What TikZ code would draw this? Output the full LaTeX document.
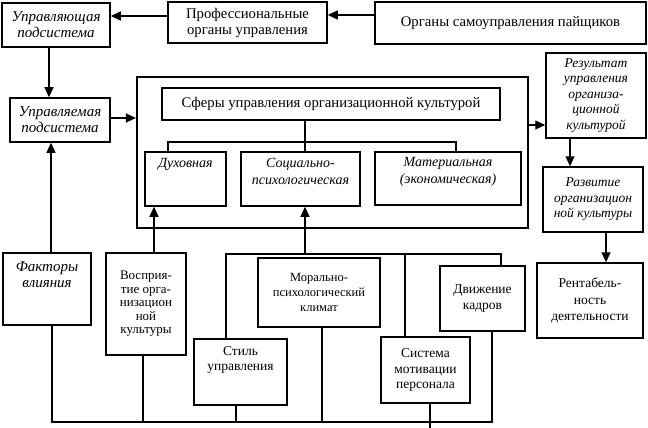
\documentclass[tikz,border=0pt]{standalone}
\usepackage{fontspec}
\setmainfont{Liberation Serif}
\usetikzlibrary{arrows.meta}

\begin{document}
\begin{tikzpicture}[x=1pt, y=-1pt, font=\fontsize{13.5}{15.5}\selectfont]
  \tikzset{
    box/.style={draw=black, line width=1.5pt, align=center, inner sep=1pt},
    ibox/.style={box, font=\fontsize{13.5}{15.5}\selectfont\itshape},
    bigtxt/.style={font=\fontsize{14.7}{16}\selectfont},
    bigit/.style={font=\fontsize{15}{16}\selectfont\itshape},
    toplbl/.style={anchor=north, align=center, inner sep=0pt},
    arr/.style={line width=1.2pt, -{Triangle[length=10pt, width=9pt]}},
    wire/.style={line width=1.2pt}
  }
  \useasboundingbox (0,0) rectangle (648,428);

  % — top row —
  \node[box, bigit,   minimum width=108, minimum height=44] (upr)   at (56,25)    {Управляющая\\подсистема};
  \node[box, bigtxt,  minimum width=159, minimum height=41] (prof)  at (247.5,22.5) {Профессиональные\\органы управления};
  \node[box, bigtxt,  minimum width=271, minimum height=42] (organ) at (510.5,23) {Органы самоуправления пайщиков};
  \node[box, bigit,   minimum width=100, minimum height=44] (uprm)  at (60,120)   {Управляемая\\подсистема};

  % — spheres of culture management —
  \node[draw, line width=2.2pt, minimum width=391, minimum height=151] (big) at (332.5,152.5) {};
  \node[box, bigtxt, minimum width=338, minimum height=32] (sfery) at (331,104) {Сферы управления организационной культурой};
  \node[box, minimum width=81,  minimum height=54,
        label={[toplbl, yshift=-7pt, font=\fontsize{14}{16}\selectfont\itshape]north:Духовная}] (duh) at (185.5,179) {};
  \node[box, minimum width=119, minimum height=54,
        label={[toplbl, yshift=-7pt, font=\fontsize{14}{16.5}\selectfont\itshape]north:Социально-\\психологическая}] (soc) at (300.5,179) {};
  \node[box, minimum width=146, minimum height=53,
        label={[toplbl, yshift=-6pt, font=\fontsize{14}{17}\selectfont\itshape]north:Материальная\\(экономическая)}] (mat) at (448,178.5) {};

  % — results (right column) —
  \node[ibox, minimum width=100, minimum height=85] (res)  at (596,95.5)  {Результат\\управления\\организа-\\ционной\\культурой};
  \node[ibox, minimum width=100, minimum height=65] (razv) at (593,199.5) {Развитие\\организацион\\ной культуры};
  \node[box,  minimum width=106, minimum height=75, font=\fontsize{13.5}{16.5}\selectfont] (rent) at (590,300.5) {Рентабель-\\ность\\деятельности};

  % — influence factors (bottom) —
  \node[box, minimum width=88, minimum height=72,
        label={[toplbl, yshift=-9pt, bigit]north:Факторы\\влияния}] (fakt) at (47,289) {};
  \node[box, minimum width=80, minimum height=102, font=\fontsize{13}{13.5}\selectfont] (vospr) at (146,304)
        {Восприя-\\тие орга-\\низацион\\ной\\культуры};
  \node[box, minimum width=122, minimum height=69, font=\fontsize{12.5}{15}\selectfont] (moral) at (319,292.5)
        {Морально-\\психологический\\климат};
  \node[box, minimum width=93, minimum height=66,
        label={[toplbl, yshift=-8pt]north:Стиль\\управления}] (stil) at (240.5,372) {};
  \node[box, minimum width=89, minimum height=66] (sys)   at (425.5,370) {Система\\мотивации\\персонала};
  \node[box, minimum width=85, minimum height=65] (dvizh) at (482.5,298.5) {Движение\\кадров};

  % — arrows between blocks —
  \draw[arr] ([yshift=8pt]organ.west) -- ([yshift=8pt]organ.west -| prof.east);
  \draw[arr] (prof.west |- 0,16) -- (upr.east |- 0,16);
  \draw[arr] (upr.south -| 49,0) -- (uprm.north -| 49,0);
  \draw[arr] (uprm.east |- 0,118) -- (big.west |- 0,118);
  \draw[arr] (big.east |- 0,125) -- (res.west |- 0,125);
  \draw[arr] (res.south -| 570,0) -- (razv.north -| 570,0);
  \draw[arr] (razv.south -| 606,0) -- (rent.north -| 606,0);
  \draw[arr] (fakt.north -| 51,0) -- (uprm.south -| 51,0);
  \draw[arr] (vospr.north -| 154,0) -- (duh.south -| 154,0);

  % tree under the spheres box
  \coordinate (sfbus) at (305,142);
  \draw[wire] (sfery.south -| sfbus) -- (soc.north -| sfbus);
  \draw[wire] (duh.north -| 168,0) |- (sfbus) -| (mat.north -| 456,0);

  % upper bus of factors
  \coordinate (hub) at (305,254);
  \draw[wire] (stil.north -| 226,0) |- (hub) -| (dvizh.north -| 501,0);
  \draw[wire] (hub -| 405,0) -- (sys.north -| 405,0);
  \draw[arr] (hub) -- (soc.south -| hub);

  % lower bus of factors
  \coordinate (bus) at (52,422);
  \draw[wire] (fakt.south -| bus) -- (bus) -- (492,422) -- (dvizh.south -| 492,0);
  \foreach \n/\xx in {vospr/143, stil/236, moral/322}
    \draw[wire] (\n.south -| \xx,0) -- (bus -| \xx,0);
  \draw[wire] (sys.south -| 430,0) -- (430,428);
\end{tikzpicture}
\end{document}
